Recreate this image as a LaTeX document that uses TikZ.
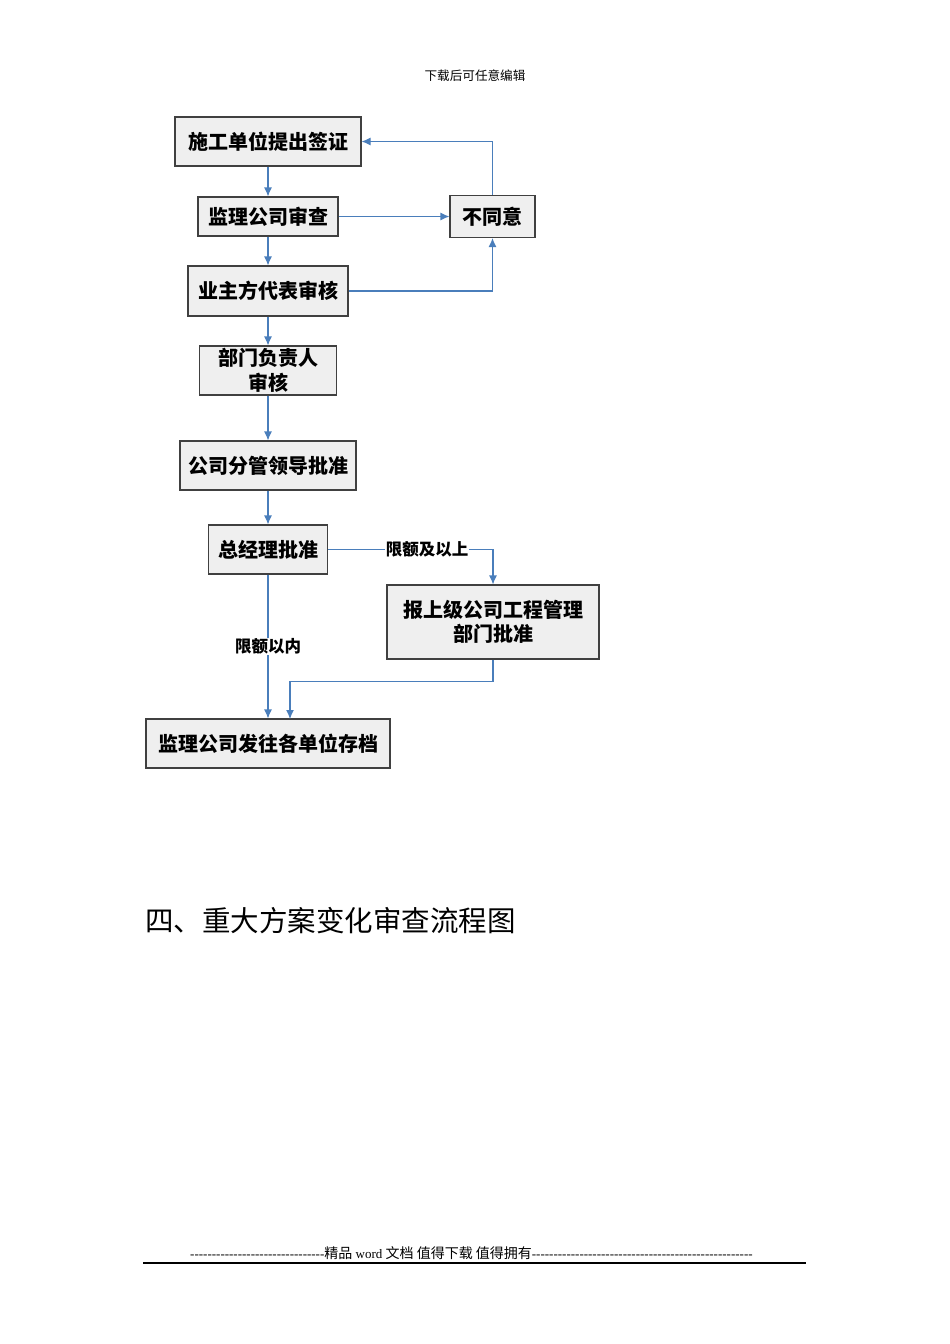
\documentclass[tikz,border=0pt]{standalone}
\usepackage{fontspec}
\setmainfont{Liberation Serif}
\newfontfamily\cjk{Noto Sans CJK SC}
\usetikzlibrary{arrows.meta}
\definecolor{boxfill}{HTML}{EFEFEF}
\definecolor{boxline}{HTML}{404040}
\definecolor{linkblue}{HTML}{4A7EBB}
\newcommand\mydashes[1]{\foreach\i in {1,...,#1}{-}}
\begin{document}
\begin{tikzpicture}[x=1pt,y=-1pt,
  box/.style={draw=boxline, line width=1.1pt, fill=boxfill, inner sep=0pt, align=center,
     font=\cjk\bfseries\fontsize{20}{25}\selectfont},
  arr/.style={draw=linkblue, line width=1.1pt, -{Latex[length=9pt,width=8pt]}},
  lab/.style={fill=white, inner sep=1pt, font=\cjk\bfseries\fontsize{16.5}{20}\selectfont}]
\path[use as bounding box] (0,0) rectangle (950,1344);
\node[font=\cjk\fontsize{12.6}{15}\selectfont] (hdr) at (475,76) {下载后可任意编辑};
\node[box, minimum width=186, minimum height=49] (n1) at (268,141.5) {施工单位提出签证};
\node[box, minimum width=140, minimum height=39] (n2) at (268,216.5) {监理公司审查};
\node[box, minimum width=85, minimum height=42] (n3) at (492.5,216.5) {不同意};
\node[box, minimum width=160, minimum height=50] (n4) at (268,291) {业主方代表审核};
\node[box, minimum width=137, minimum height=49] (n5) at (268,370.5) {部门负责人\\[0pt]审核};
\node[box, minimum width=176, minimum height=49] (n6) at (268,465.5) {公司分管领导批准};
\node[box, minimum width=119, minimum height=49] (n7) at (268,549.5) {总经理批准};
\node[box, minimum width=212, minimum height=74] (n8) at (493,622) {报上级公司工程管理\\[-1pt]部门批准};
\node[box, minimum width=244, minimum height=49] (n9) at (268,743.5) {监理公司发往各单位存档};
\coordinate (c9) at (290,719);
\draw[arr] (n1.south) -- (n2.north);
\draw[arr] (n2.east) -- (n3.west);
\draw[arr] (n3.north) |- (n1.east);
\draw[arr] (n4.east) -| (n3.south);
\draw[arr] (n2.south) -- (n4.north);
\draw[arr] (n4.south) -- (n5.north);
\draw[arr] (n5.south) -- (n6.north);
\draw[arr] (n6.south) -- (n7.north);
\draw[arr] (n7.east) -| node[lab, pos=0.3] {限额及以上} (n8.north);
\draw[arr] (n7.south) -- node[lab] {限额以内} (n9.north);
\draw[arr] (n8.south) -- ++(0,22) -| (c9);
\node[anchor=west, inner sep=0pt, font=\cjk\fontsize{28.5}{32}\selectfont] (title) at (145,921) {四、重大方案变化审查流程图};
\node[anchor=west, inner sep=0pt, font=\fontsize{13}{15}\selectfont] (ftr) at (190,1253)
  {\mydashes{31}{\cjk\fontsize{14}{15}\selectfont 精品} word {\cjk\fontsize{14}{15}\selectfont 文档 值得下载 值得拥有}\mydashes{51}};
\draw[line width=1.3pt] (143,1263) -- (806,1263);
\end{tikzpicture}
\end{document}
